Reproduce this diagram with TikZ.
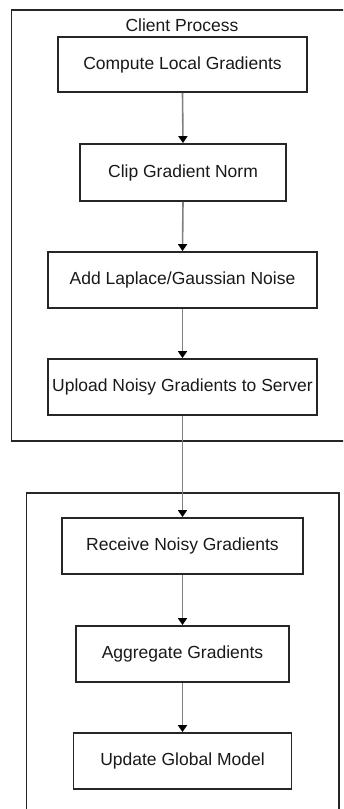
\documentclass[tikz,border=0pt]{standalone}
\usepackage{fontspec}
\setmainfont{Liberation Sans}
\usetikzlibrary{arrows.meta}
\begin{document}
\begin{tikzpicture}[x=1pt,y=-1pt,
  stepbox/.style={draw=black!85, line width=1.8pt, fill=white, inner sep=0pt,
    font=\fontsize{17.5}{20}\selectfont, text=black!90},
  group/.style={draw=black!85, line width=1.6pt},
  flow/.style={draw=black!50, line width=1.6pt,
    -{Triangle[length=7pt,width=9pt,fill=black,color=black]}}]
  \useasboundingbox (0,0) rectangle (343,809);
  \clip (0,0) rectangle (343,809);

  % client and server groups
  \draw[group] (11.5,10) rectangle (350,441);
  \draw[group] (26.5,493) rectangle (339,820);
  \node[font=\fontsize{17.5}{20}\selectfont, text=black!90] (clientlbl) at (182,25) {Client Process};

  % client steps
  \node[stepbox, minimum width=249pt, minimum height=55pt] (s1) at (182.5,64.5) {Compute Local Gradients};
  \node[stepbox, minimum width=206pt, minimum height=57pt] (s2) at (183,172.5) {Clip Gradient Norm};
  \node[stepbox, minimum width=269pt, minimum height=56pt] (s3) at (182.5,280) {Add Laplace/Gaussian Noise};
  \node[stepbox, minimum width=269pt, minimum height=56pt] (s4) at (182.5,387) {Upload Noisy Gradients to Server};

  % server steps
  \node[stepbox, minimum width=241pt, minimum height=56pt] (s5) at (182.5,546) {Receive Noisy Gradients};
  \node[stepbox, minimum width=213pt, minimum height=56pt] (s6) at (182.5,654) {Aggregate Gradients};
  \node[stepbox, minimum width=218pt, minimum height=56pt] (s7) at (182.5,761) {Update Global Model};

  % connectors
  \draw[flow] (s1.south) -- (s2.north);
  \draw[flow] (s2.south) -- (s3.north);
  \draw[flow] (s3.south) -- (s4.north);
  \draw[flow] (s4.south) -- (s5.north);
  \draw[flow] (s5.south) -- (s6.north);
  \draw[flow] (s6.south) -- (s7.north);
\end{tikzpicture}
\end{document}
